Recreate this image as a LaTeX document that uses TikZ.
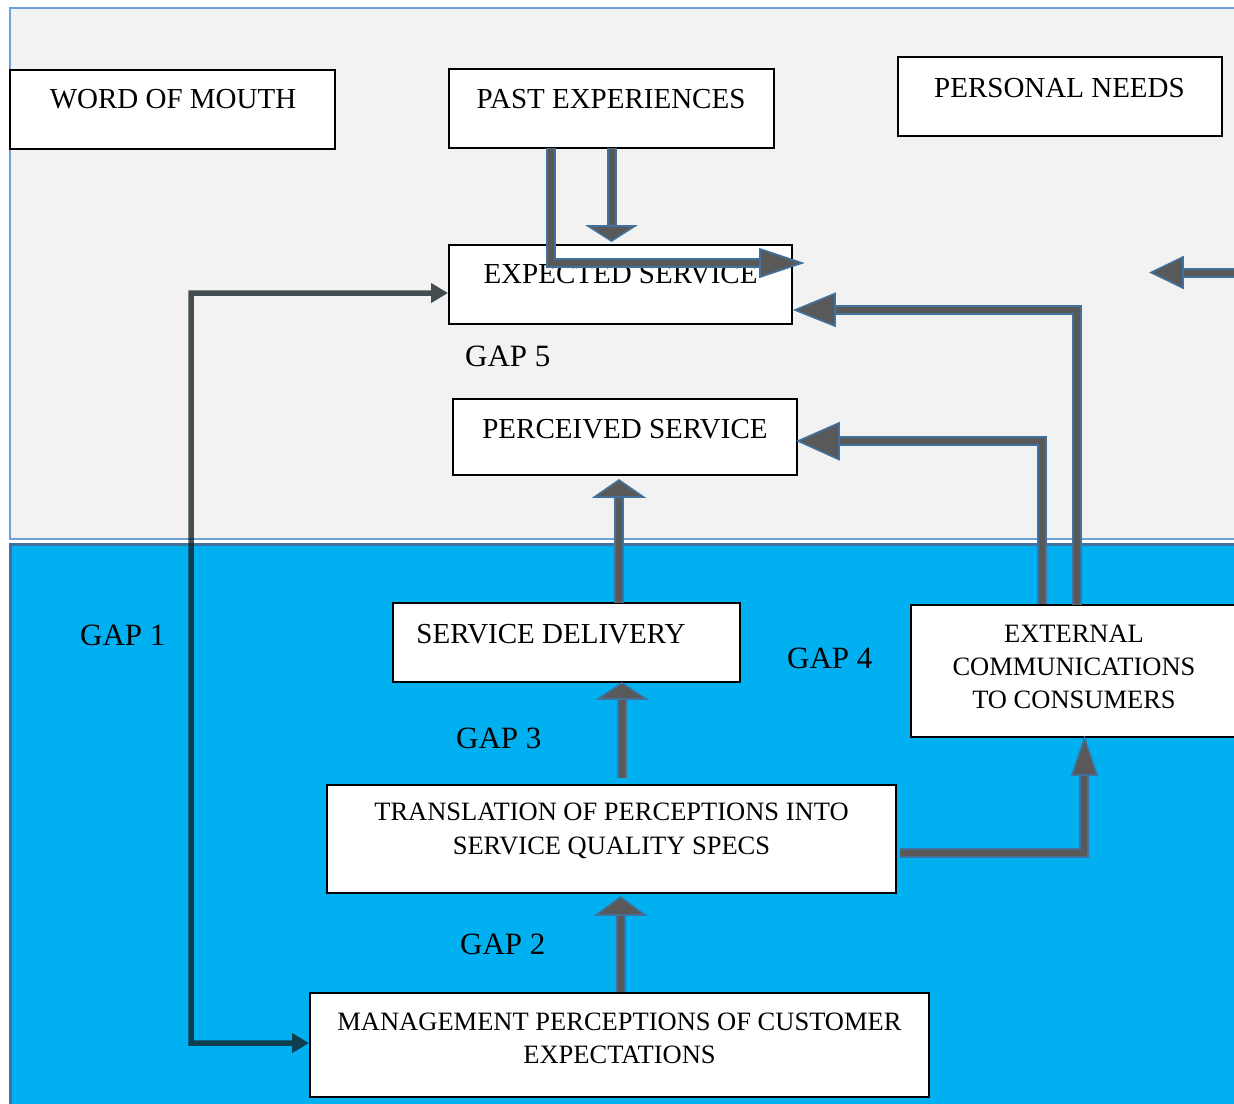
\documentclass[tikz,border=0pt]{standalone}
\usepackage{fontspec}
\setmainfont{Liberation Serif}
\usetikzlibrary{arrows.meta,calc}
\definecolor{bgray}{HTML}{F2F2F2}
\definecolor{bblue}{HTML}{00B0F0}
\definecolor{lborder}{HTML}{6FA0D8}
\definecolor{dborder}{HTML}{41719C}
\definecolor{agray}{HTML}{595959}
\definecolor{aout}{RGB}{65,113,156}
\definecolor{gapline}{RGB}{18,30,36}
\tikzset{
  box/.style={draw=black, line width=1.8, fill=white, anchor=north west, inner sep=0, outer sep=0},
  bigtxt/.style={font=\fontsize{29}{33}\selectfont, anchor=base, inner sep=0},
  smalltxt/.style={font=\fontsize{26.5}{33}\selectfont, anchor=base, inner sep=0},
  gaptxt/.style={font=\fontsize{31}{36}\selectfont, anchor=base west, inner sep=0},
  shaftout/.style={draw=aout, line width=10, line join=miter, line cap=butt},
  shaftin/.style={draw=agray, line width=6, line join=miter, line cap=butt},
  headtri/.style={fill=agray, draw=aout, line width=1.6, line join=miter},
}
\newcommand\blkarrow[2]{\draw[shaftout] #1; \draw[shaftin] #1; \filldraw[headtri] #2;}
\begin{document}
\begin{tikzpicture}[x=1pt,y=-1pt]
\useasboundingbox (0,0) rectangle (1234,1103);
\fill[white] (0,0) rectangle (1234,1103);
% backgrounds
\filldraw[fill=bgray, draw=lborder, line width=2] (10,8) rectangle (1240,539);
\filldraw[fill=bblue, draw=dborder, line width=3] (10.5,544.5) rectangle (1240,1112);

% boxes
\node[box, minimum width=325, minimum height=79] (wom) at (10,70) {};
\node[box, minimum width=325, minimum height=79] (past) at (449,69) {};
\node[box, minimum width=324, minimum height=79] (needs) at (898,57) {};
\node[box, minimum width=343, minimum height=79] (exp) at (449,245) {};
\node[box, minimum width=344, minimum height=76] (perc) at (453,399) {};
\node[box, minimum width=347, minimum height=79] (sd) at (393,603) {};
\node[box, minimum width=335, minimum height=132] (ext) at (911,605) {};
\node[box, minimum width=569, minimum height=108] (trans) at (327,785) {};
\node[box, minimum width=619, minimum height=104] (mgmt) at (310,993) {};

% box texts
\node[bigtxt] (twom) at (173,108) {WORD OF MOUTH};
\node[bigtxt] (tpast) at (611,108) {PAST EXPERIENCES};
\node[bigtxt] (tneeds) at (1059.5,97) {PERSONAL NEEDS};
\node[bigtxt] (texp) at (620.5,283) {EXPECTED SERVICE};
\node[bigtxt] (tperc) at (625,438) {PERCEIVED SERVICE};
\node[bigtxt] (tsd) at (551,643) {SERVICE DELIVERY};
\node[smalltxt] (text1) at (1074,642) {EXTERNAL};
\node[smalltxt] (text2) at (1074,675) {COMMUNICATIONS};
\node[smalltxt] (text3) at (1074,708) {TO CONSUMERS};
\node[smalltxt] (ttr1) at (611.5,820) {TRANSLATION OF PERCEPTIONS INTO};
\node[smalltxt] (ttr2) at (611.5,854) {SERVICE QUALITY SPECS};
\node[smalltxt] (tmg1) at (619.5,1030) {MANAGEMENT PERCEPTIONS OF CUSTOMER};
\node[smalltxt] (tmg2) at (619.5,1063) {EXPECTATIONS};

% gap labels
\node[gaptxt] (g1) at (80,645) {GAP 1};
\node[gaptxt] (g5) at (465,366) {GAP 5};
\node[gaptxt] (g4) at (787,668) {GAP 4};
\node[gaptxt] (g3) at (456,748) {GAP 3};
\node[gaptxt] (g2) at (460,954) {GAP 2};

% gap 1 connector
\begin{scope}[transparency group, opacity=0.78]
\draw[gapline, line width=5.5, line join=miter,
  {Triangle[length=17pt,width=19pt]}-{Triangle[length=17pt,width=19pt]}]
  ($(exp.west)+(-1,8.5)$) -- (191,293) -- (191,1043) -- ($(mgmt.west)+(-1,-2)$);
\end{scope}

% block arrows
\blkarrow{($(past.south)+(0,0)$) -- (611.5,227)}{(588,226) -- (635,226) -- (611.5,241) -- cycle}
\blkarrow{($(past.south west)+(102,0)$) -- (551,263) -- (762,263)}{(760,249) -- (760,277) -- (802,263) -- cycle}
\blkarrow{(1240,272.5) -- (1181,272.5)}{(1183,257) -- (1183,288) -- (1151,272.5) -- cycle}
\blkarrow{($(ext.north west)+(166,0)$) -- (1077,310) -- (833,310)}{(835,293.5) -- (835,326) -- (795,310) -- cycle}
\blkarrow{($(ext.north west)+(130.5,-1)$) -- (1041.5,441) -- (837,441)}{(839,423) -- (839,459.5) -- (798,441) -- cycle}
\blkarrow{($(sd.north)+(52.5,0)$) -- (619,495)}{(594.5,497) -- (643.5,497) -- (619,480) -- cycle}
\blkarrow{($(trans.north)+(10.5,-7)$) -- (622,697)}{(598,699) -- (646,699) -- (622,683) -- cycle}
\blkarrow{($(mgmt.north)+(1.5,-1)$) -- (621,913)}{(596,915) -- (645,915) -- (620.5,897) -- cycle}
\blkarrow{($(trans.east)+(4,14)$) -- (1084,853) -- (1084,773)}{(1072,775) -- (1097,775) -- (1084.5,738) -- cycle}
\end{tikzpicture}
\end{document}
